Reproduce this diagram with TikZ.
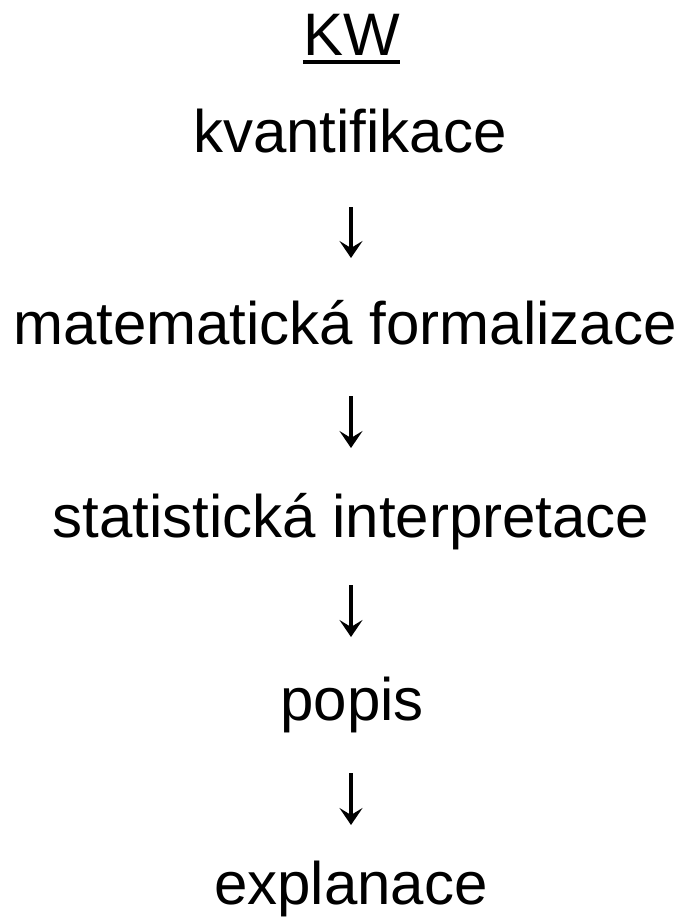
\documentclass[tikz,border=0pt]{standalone}
\usepackage{fontspec}
\setmainfont{Liberation Sans}
\usetikzlibrary{arrows.meta,calc}
\tikzset{
  word/.style={anchor=base, inner sep=0pt, font=\fontsize{60}{72}\selectfont},
  flow/.style={line width=3.4pt, -{Stealth[length=17pt, width=23pt, inset=7pt]}},
}
\begin{document}
\begin{tikzpicture}[x=1pt,y=1pt]
  \useasboundingbox (0,0) rectangle (689,-919);
  \node[word] (kw) at (351.5,-55) {KW};
  \node[word] (kv) at (350,-152) {kvantifikace};
  \node[word] (mf) at (345,-344) {matematická formalizace};
  \node[word] (si) at (351,-537) {statistická interpretace};
  \node[word] (po) at (352,-720) {popis};
  \node[word] (ex) at (351,-904) {explanace};
  % underline under the heading
  \draw[line width=4pt] ([yshift=-7pt]kw.base west) -- ([yshift=-7pt]kw.base east);
  % arrows between the steps
  \draw[flow] ($(kv.base)+(1,-55)$) -- ($(mf.base)+(6,86)$);
  \draw[flow] ($(mf.base)+(6,-52)$) -- ($(si.base)+(0,89)$);
  \draw[flow] ($(si.base)+(0,-48)$) -- ($(po.base)+(-1,83)$);
  \draw[flow] ($(po.base)+(-1,-53)$) -- ($(ex.base)+(0,79)$);
\end{tikzpicture}
\end{document}
